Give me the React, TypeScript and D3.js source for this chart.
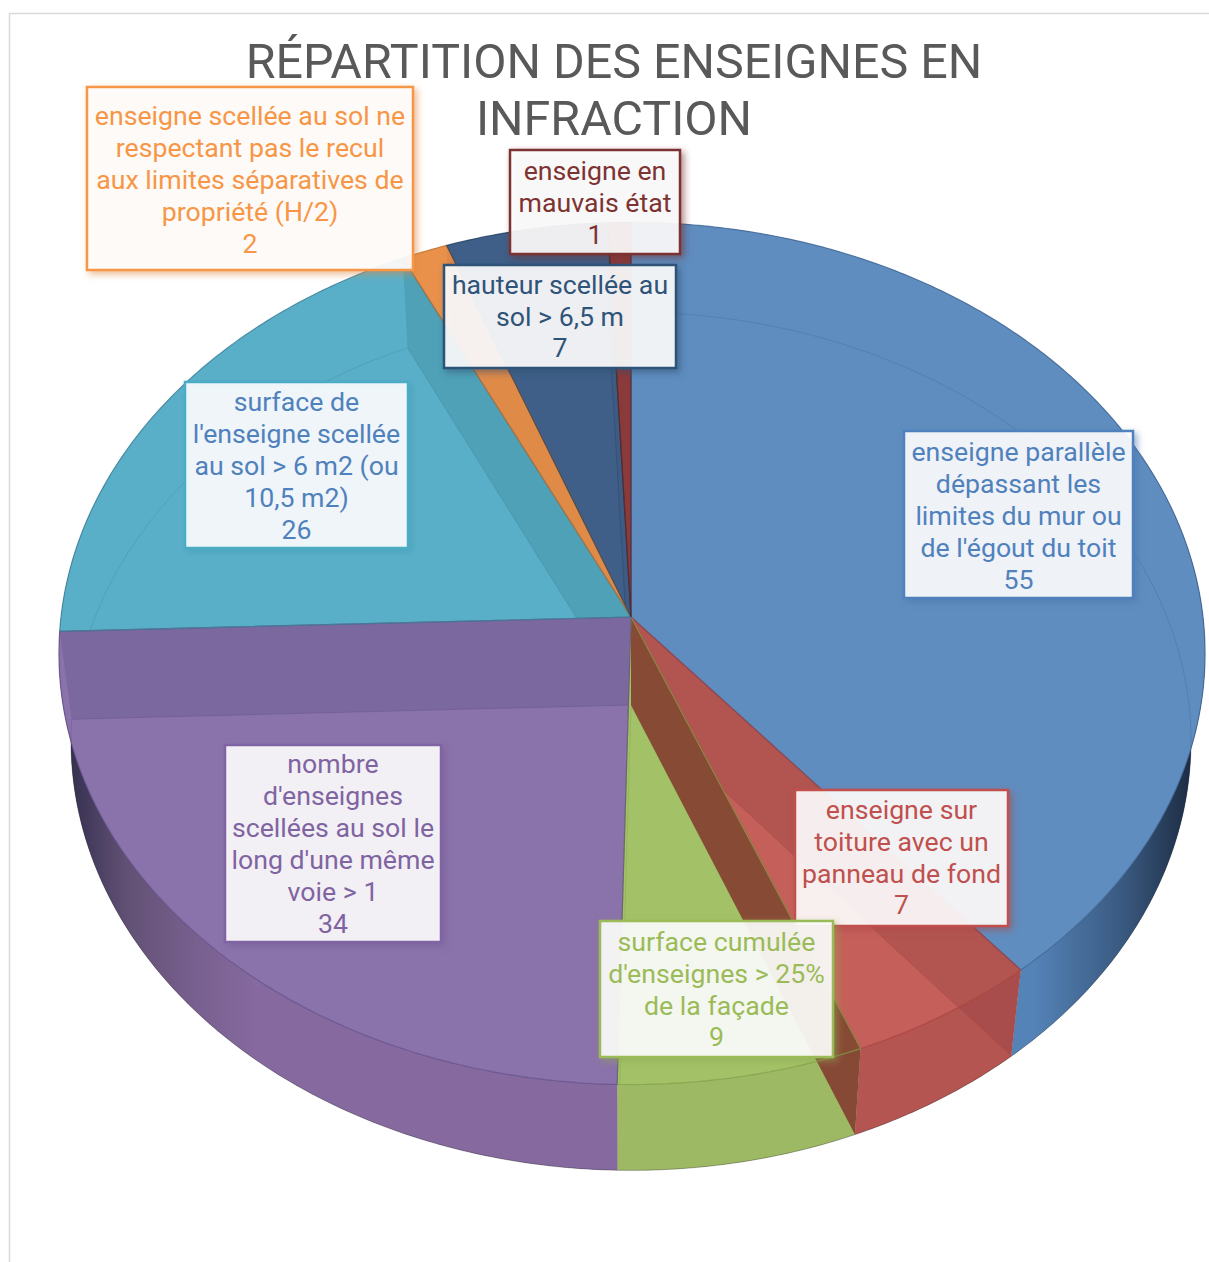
import React from "react";
import * as d3 from "d3";

const titleLines = ["RÉPARTITION DES ENSEIGNES EN", "INFRACTION"];
const categories = [
  "enseigne parallèle dépassant les limites du mur ou de l'égout du toit",
  "enseigne sur toiture avec un panneau de fond",
  "surface cumulée d'enseignes > 25% de la façade",
  "nombre d'enseignes scellées au sol le long d'une même voie > 1",
  "surface de l'enseigne scellée au sol > 6 m2 (ou 10,5 m2)",
  "enseigne scellée au sol ne respectant pas le recul aux limites séparatives de propriété (H/2)",
  "hauteur scellée au sol > 6,5 m",
  "enseigne en mauvais état",
];
const values = [55, 7, 9, 34, 26, 2, 7, 1];
const labelLines = [
  ["enseigne parallèle", "dépassant les", "limites du mur ou", "de l'égout du toit"],
  ["enseigne sur", "toiture avec un", "panneau de fond"],
  ["surface cumulée", "d'enseignes > 25%", "de la façade"],
  ["nombre", "d'enseignes", "scellées au sol le", "long d'une même", "voie > 1"],
  ["surface de", "l'enseigne scellée", "au sol > 6 m2 (ou", "10,5 m2)"],
  ["enseigne scellée au sol ne", "respectant pas le recul", "aux limites séparatives de", "propriété (H/2)"],
  ["hauteur scellée au", "sol > 6,5 m"],
  ["enseigne en", "mauvais état"],
];

// styles
const lightFill = ["#5f8dbf", "#c55f5a", "#a3c167", "#8a72aa", "#5aafc8", "#e9914a", "#3f5f88", "#8b3a3a"];
const darkFill = ["#5e8cbe", "#b25450", "#a3c167", "#7a689f", "#4ea1b6", "#e08a48", "#3d5b83", "#853838"];
const wallLight = ["#5483b8", "#b55551", "#9eb964", "#85699f", "#4ea1b6", "#e48a45", "#3d5b83", "#853838"];
const wallDark = ["#5483b8", "#a84c4c", "#9eb964", "#85699f", "#4ea1b6", "#e48a45", "#3d5b83", "#853838"];
const edge = ["#3f6391", "#a5403c", "#7f9e45", "#62508a", "#3f7f98", "#b96f2f", "#24405f", "#5e2322"];
const labelColor = ["#4f81bd", "#c0504d", "#9bbb59", "#8064a2", "#4bacc6", "#f79646", "#2f5379", "#7d3331"];
const textColor = ["#4f81bd", "#c0504d", "#9bbb59", "#8064a2", "#4f81bd", "#f79646", "#2f5379", "#7d3331"];
// label box layout: left, top, right, bottom, first line centre, line pitch
const labelBox = [
  [904, 431, 1133, 598, 452, 32],
  [795, 790, 1008, 926, 810, 31.7],
  [600, 921, 833, 1057, 942, 31.7],
  [225, 745, 441, 942, 764, 32],
  [185, 382, 408, 548, 402, 32],
  [87, 87, 413, 270, 116, 32],
  [444, 265, 676, 368, 285, 31.5],
  [510, 150, 680, 254, 171, 32],
];

const W = 1209;
const H = 1262;
const persp = 0.0846;
const upper = { x: d3.scaleLinear().domain([-1, 0, 1]).range([61, 631, 1203]), y: d3.scaleLinear().domain([-1, 1]).range([617 - 428, 617 + 428]) };
const lower = { x: d3.scaleLinear().domain([-1, 1]).range([631 - 558, 631 + 558]), y: d3.scaleLinear().domain([-1, 1]).range([705 - 426, 705 + 426]) };
type Layer = typeof upper;

function project(layer: Layer, a: number): [number, number] {
  const u = Math.sin(a);
  const v = -Math.cos(a);
  const s = 1 / (1 - persp * v);
  return [layer.x(u * s), layer.y(v * s)];
}
const centre = (layer: Layer): [number, number] => [layer.x(0), layer.y(0)];
function rim(layer: Layer, a0: number, a1: number): [number, number][] {
  const n = Math.max(2, Math.ceil((a1 - a0) / 0.01));
  return d3.range(n + 1).map((i) => project(layer, a0 + ((a1 - a0) * i) / n));
}
const poly = d3.line();
const sector = (layer: Layer, a0: number, a1: number) => poly([centre(layer), ...rim(layer, a0, a1)]) + "Z";
const wall = (a0: number, a1: number) => poly([...rim(upper, a0, a1), ...rim(lower, a0, a1).reverse()]) + "Z";
const radialWall = (a: number) => poly([centre(upper), project(upper, a), project(lower, a), centre(lower)]) + "Z";
const slices = d3.pie<number>().sort(null)(values);

export default function App() {
  return (
    <svg width={W} height={H} style={{ position: "absolute", left: 0, top: 0, fontFamily: "Roboto" }}>
      <defs>
        <linearGradient id="sideShade" gradientUnits="userSpaceOnUse" x1={60} x2={1205} y1={0} y2={0}>
          <stop offset="0" stopColor="#181c30" stopOpacity="0.8" />
          <stop offset="0.025" stopColor="#181c30" stopOpacity="0.6" />
          <stop offset="0.06" stopColor="#2a2a30" stopOpacity="0.38" />
          <stop offset="0.12" stopColor="#2a2a30" stopOpacity="0.14" />
          <stop offset="0.17" stopColor="#2a2a30" stopOpacity="0" />
          <stop offset="0.85" stopColor="#101828" stopOpacity="0" />
          <stop offset="0.93" stopColor="#101828" stopOpacity="0.4" />
          <stop offset="1" stopColor="#101828" stopOpacity="0.9" />
        </linearGradient>
        {slices.map((s, i) => (
          <React.Fragment key={i}>
            <clipPath id={`top${i}`}><path d={sector(upper, s.startAngle, s.endAngle)} /></clipPath>
            <clipPath id={`wall${i}`}><path d={wall(s.startAngle, s.endAngle)} /></clipPath>
            <filter id={`shadow${i}`} x="-15%" y="-15%" width="130%" height="130%">
              <feDropShadow dx="3" dy="3" stdDeviation="3.5" floodColor={d3.color(labelColor[i])!.darker(0.3).formatHex()} floodOpacity="0.6" />
            </filter>
          </React.Fragment>
        ))}
      </defs>
      <path d={`M9.5 ${H}V13.5H${W}`} fill="none" stroke="#d9d9d9" strokeWidth={1.5} />
      <g fontSize={48.4} fill="#595959" textAnchor="middle">
        {titleLines.map((t, i) => (
          <text key={t} x={614} y={78 + i * 57}>{t}</text>
        ))}
      </g>
      {slices.map((s, i) => (
        <g key={i}>
          <path d={wall(s.startAngle, s.endAngle)} fill={wallDark[i]} />
          <g clipPath={`url(#wall${i})`}>
            <path d={sector(lower, s.startAngle, s.endAngle)} fill={wallLight[i]} />
          </g>
        </g>
      ))}
      <path d={poly(rim(lower, 0, Math.PI * 2)) + "Z"} fill="none" stroke="#222" strokeOpacity={0.35} />
      {slices.map((s, i) => (
        <path key={i} d={wall(s.startAngle, s.endAngle)} fill="url(#sideShade)" />
      ))}
      {slices.map((s, i) => (
        <g key={i}>
          <path d={sector(upper, s.startAngle, s.endAngle)} fill={lightFill[i]} />
          <g clipPath={`url(#top${i})`}>
            {slices.map((o, j) =>
              j === i ? null : <path key={j} d={sector(lower, o.startAngle, o.endAngle)} fill={darkFill[i]} />
            )}
            <path d={radialWall(s.endAngle)} fill={darkFill[i]} />
            <path d={sector(lower, s.startAngle, s.endAngle)} fill="none" stroke={edge[i]} strokeOpacity={0.3} />
          </g>
        </g>
      ))}
      <path d={radialWall(slices[1].endAngle)} fill="#83392f" fillOpacity={0.88} />
      {slices.map((s, i) => (
        <path key={i} d={sector(upper, s.startAngle, s.endAngle)} fill="none" stroke={edge[i]} strokeOpacity={0.75} strokeWidth={1.2} />
      ))}
      {labelLines.map((lines, i) => {
        const [l, t, r, b, y0, dy] = labelBox[i];
        const rows = [...lines, String(values[i])];
        return (
          <g key={categories[i]}>
            <rect x={l} y={t} width={r - l} height={b - t} fill="#fff" fillOpacity={0.88} stroke={labelColor[i]} strokeWidth={2.5} filter={`url(#shadow${i})`} />
            {rows.map((row, j) => (
              <text key={j} x={(l + r) / 2} y={y0 + j * dy} dy="0.35em" textAnchor="middle" fontSize={26.7} fill={textColor[i]}>{row}</text>
            ))}
          </g>
        );
      })}
    </svg>
  );
}
